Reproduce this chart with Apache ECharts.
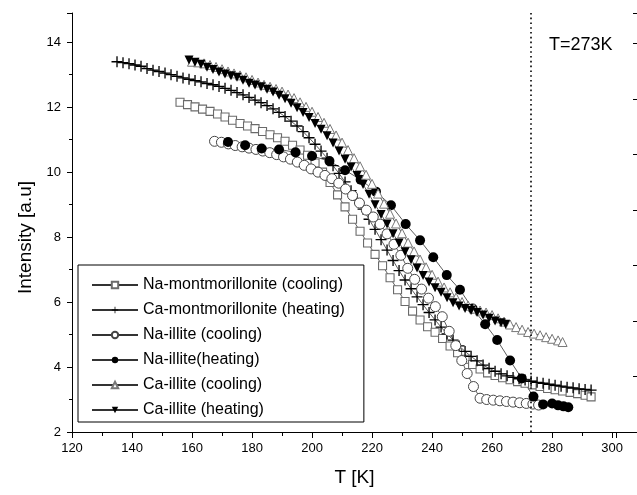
<!DOCTYPE html>
<html>
<head>
<meta charset="utf-8">
<script src="https://cdn.jsdelivr.net/npm/echarts@6/dist/echarts.min.js"></script>
<style>
  html, body { margin: 0; padding: 0; background: #fff; }
  #chart { width: 637px; height: 495px; }
</style>
</head>
<body>
<div id="chart"></div>
<script>
// [T (K), intensity (a.u)]
const naMontCooling = [
  [156, 12.15], [158.5, 12.08], [161, 12.01], [163.5, 11.94], [166, 11.87], [168.5, 11.79],
  [171, 11.7], [173.5, 11.6], [176, 11.5], [178.5, 11.42], [181, 11.34], [183.5, 11.25],
  [186, 11.15], [188.5, 11.06], [191, 10.95], [193.5, 10.83], [196, 10.68], [198.5, 10.52],
  [201, 10.28], [203.5, 10.0], [206, 9.68], [208.5, 9.3], [211, 8.93], [213.5, 8.55],
  [216, 8.18], [218.5, 7.82], [221, 7.47], [223.5, 7.12], [226, 6.75], [228.5, 6.38],
  [231, 6.02], [233.5, 5.72], [236, 5.45], [238.5, 5.24], [241, 5.07], [243.5, 4.88],
  [246, 4.65], [248.5, 4.44], [251, 4.24], [253.5, 4.08], [256, 3.94], [258.5, 3.82],
  [261, 3.74], [263.5, 3.67], [266, 3.61], [268.5, 3.55], [271, 3.5], [273.5, 3.45],
  [276, 3.4], [278.5, 3.34], [281, 3.3], [283.5, 3.26], [286, 3.22], [288.5, 3.18],
  [291, 3.13], [293, 3.08]
];
const caMontHeating = [
  [135, 13.4], [137, 13.37], [139, 13.34], [141, 13.3], [143, 13.26], [145, 13.19],
  [147, 13.14], [149, 13.1], [151, 13.05], [153, 13.0], [155, 12.95], [157, 12.9],
  [159, 12.86], [161, 12.82], [163, 12.78], [165, 12.73], [167, 12.69], [169, 12.64],
  [171, 12.58], [173, 12.52], [175, 12.45], [177, 12.38], [179, 12.3], [181, 12.22],
  [183, 12.14], [185, 12.05], [187, 11.95], [189, 11.84], [191, 11.71], [193, 11.57],
  [195, 11.42], [197, 11.25], [199, 11.06], [201, 10.86], [203, 10.65], [205, 10.43],
  [207, 10.2], [209, 9.96], [211, 9.7], [213, 9.43], [215, 9.15], [217, 8.86],
  [219, 8.55], [221, 8.24], [223, 7.92], [225, 7.6], [227, 7.28], [229, 6.97],
  [231, 6.68], [233, 6.41], [235, 6.16], [237, 5.92], [239, 5.68], [241, 5.45],
  [243, 5.23], [245, 5.02], [247, 4.83], [249, 4.65], [251, 4.48], [253, 4.33],
  [255, 4.19], [257, 4.06], [259, 3.96], [261, 3.87], [263, 3.79], [265, 3.73],
  [267, 3.68], [269, 3.64], [271, 3.6], [273, 3.56], [275, 3.53], [277, 3.5],
  [279, 3.47], [281, 3.44], [283, 3.41], [285, 3.38], [287, 3.36], [289, 3.33],
  [291, 3.31], [293, 3.29]
];
const naIlliteCooling = [
  [167.5, 10.95], [169.8, 10.92], [172.1, 10.87], [174.4, 10.82], [176.7, 10.78], [179, 10.74],
  [181.3, 10.7], [183.6, 10.65], [185.9, 10.6], [188.2, 10.54], [190.5, 10.47], [192.8, 10.4],
  [195.1, 10.31], [197.4, 10.21], [199.7, 10.1], [202, 10.0], [204.3, 9.9], [206.6, 9.8],
  [208.9, 9.66], [211.2, 9.48], [213.5, 9.28], [215.8, 9.05], [218.1, 8.83], [220.4, 8.62],
  [222.7, 8.4], [225, 8.1], [227.3, 7.78], [229.6, 7.44], [231.9, 7.04], [234.2, 6.7],
  [236.5, 6.4], [238.8, 6.12], [241.1, 5.86], [243.4, 5.55], [245.7, 5.1], [247.9, 4.66],
  [249.9, 4.2], [251.7, 3.8], [253.8, 3.4], [256, 3.04], [258.2, 3.0], [260.4, 2.98],
  [262.6, 2.96], [264.8, 2.94], [267, 2.92], [269.2, 2.9], [271.4, 2.88], [273.6, 2.86],
  [275.5, 2.83]
];
const naIlliteHeating = [
  [172, 10.93], [177.7, 10.83], [183.2, 10.73], [189, 10.7], [194.5, 10.61], [200, 10.5],
  [205.8, 10.34], [211, 10.06], [216.2, 9.77], [221.3, 9.4], [226.3, 8.98], [231.2, 8.4],
  [236, 7.9], [240.4, 7.38], [244.9, 6.83], [249.3, 6.38], [253.5, 5.8], [257.7, 5.32],
  [261.7, 4.83], [266, 4.2], [269.9, 3.65], [273.8, 3.09], [277, 2.85], [280, 2.88],
  [282, 2.82], [283.8, 2.79], [285.4, 2.76]
];
const caIlliteCooling = [
  [160, 13.4], [162, 13.38], [164, 13.35], [166, 13.3], [168, 13.24], [170, 13.17],
  [172, 13.1], [174, 13.04], [176, 12.98], [178, 12.92], [180, 12.84], [182, 12.76],
  [184, 12.69], [186, 12.63], [188, 12.56], [190, 12.48], [192, 12.39], [194, 12.28],
  [196, 12.15], [198, 12.01], [200, 11.86], [202, 11.7], [204, 11.52], [206, 11.33],
  [208, 11.13], [210, 10.91], [212, 10.68], [214, 10.43], [216, 10.18], [218, 9.92],
  [220, 9.64], [222, 9.34], [224, 9.03], [226, 8.72], [228, 8.42], [230, 8.12],
  [232, 7.83], [234, 7.56], [236, 7.31], [238, 7.07], [240, 6.84], [242, 6.63],
  [244, 6.45], [246, 6.3], [248, 6.14], [250, 6.0], [252, 5.89], [254, 5.8],
  [256, 5.74], [258, 5.68], [260, 5.6], [262, 5.5], [264, 5.4], [266, 5.31],
  [268, 5.23], [270, 5.15], [272, 5.08], [274, 5.03], [276, 4.98], [278, 4.92],
  [280, 4.87], [282, 4.82], [283.5, 4.77]
];
const caIlliteHeating = [
  [159, 13.45], [161, 13.38], [163, 13.32], [165, 13.23], [167, 13.16], [169, 13.08],
  [171, 13.02], [173, 12.97], [175, 12.92], [177, 12.83], [179, 12.74], [181, 12.68],
  [183, 12.63], [185, 12.55], [187, 12.47], [189, 12.37], [191, 12.26], [193, 12.12],
  [195, 11.98], [197, 11.84], [199, 11.68], [201, 11.5], [203, 11.32], [205, 11.12],
  [207, 10.9], [209, 10.65], [211, 10.4], [213, 10.16], [215, 9.9], [217, 9.62],
  [219, 9.32], [221, 9.0], [223, 8.7], [225, 8.4], [227, 8.1], [229, 7.82],
  [231, 7.55], [233, 7.3], [235, 7.05], [237, 6.82], [239, 6.62], [241, 6.44],
  [243, 6.3], [245, 6.13], [247, 5.98], [249, 5.88], [251, 5.8], [253, 5.74],
  [255, 5.68], [257, 5.6], [259, 5.5], [261, 5.42], [263, 5.36], [264.5, 5.32]
];
const meltingT = 273;

const font = "'Liberation Sans', Arial, sans-serif";
const plusPath = "path://M4.4,0H5.6V4.4H10V5.6H5.6V10H4.4V5.6H0V4.4H4.4Z";
const downTriPath = "path://M0,0L10,0L5,9Z";
const thinLine = { color: "#333", width: 0.8 };

function makeSeries(name, data, symbol, size, itemStyle) {
  return {
    name: name,
    type: "line",
    data: data,
    symbol: symbol,
    symbolSize: size,
    showAllSymbol: true,
    lineStyle: thinLine,
    itemStyle: itemStyle,
    emphasis: { disabled: true },
    animation: false,
  };
}

const series = [
  makeSeries("Na-montmorillonite (cooling)", naMontCooling, "rect", 8,
    { color: "#fff", borderColor: "#6a6a6a", borderWidth: 1.1 }),
  makeSeries("Ca-montmorillonite (heating)", caMontHeating, plusPath, 11,
    { color: "#000", borderWidth: 0 }),
  makeSeries("Na-illite (cooling)", naIlliteCooling, "circle", 10,
    { color: "#fff", borderColor: "#444", borderWidth: 1 }),
  makeSeries("Na-illite(heating)", naIlliteHeating, "circle", 10,
    { color: "#000", borderWidth: 0 }),
  makeSeries("Ca-illite (cooling)", caIlliteCooling, "triangle", 9,
    { color: "#fff", borderColor: "#777", borderWidth: 1 }),
  makeSeries("Ca-illite (heating)", caIlliteHeating, downTriPath, 9,
    { color: "#000", borderWidth: 0 }),
];

series[0].markLine = {
  silent: true,
  symbol: "none",
  label: { show: false },
  lineStyle: { color: "#000", width: 1.6, type: [1.6, 3.2] },
  data: [{ xAxis: meltingT }],
};

const axisText = { color: "#000", fontFamily: font, fontSize: 13 };
const black = { color: "#000", width: 1 };

const option = {
  animation: false,
  title: {
    text: "T=" + meltingT + "K",
    left: 544,
    top: 31,
    textStyle: { color: "#000", fontFamily: font, fontSize: 18, fontWeight: "normal" },
  },
  legend: {
    orient: "vertical",
    left: 78,
    top: 265,
    padding: [12, 19, 4, 13],
    itemWidth: 46,
    itemHeight: 8,
    itemGap: 9,
    borderColor: "#000",
    borderWidth: 1,
    textStyle: { color: "#000", fontFamily: font, fontSize: 16 },
    selectedMode: false,
  },
  grid: [
    { left: 72, right: 0, top: 13, bottom: 63 },
    { left: 72, width: 544, top: 13, bottom: 63 },
  ],
  xAxis: [
    {
      type: "value",
      gridIndex: 0,
      min: 120,
      max: 308.3,
      interval: 20,
      name: "T [K]",
      nameLocation: "middle",
      nameGap: 36,
      nameTextStyle: { color: "#000", fontFamily: font, fontSize: 19 },
      axisLine: { lineStyle: black },
      axisTick: { inside: false, length: 6, lineStyle: black },
      minorTick: { show: true, splitNumber: 2, length: 4, lineStyle: black },
      axisLabel: Object.assign({ margin: 10, showMaxLabel: false }, axisText),
      splitLine: { show: false },
    },
    {
      type: "value",
      gridIndex: 1,
      position: "top",
      min: 120,
      max: 301.33,
      interval: 20,
      axisLine: { lineStyle: black },
      axisTick: { inside: true, length: 6, lineStyle: black },
      minorTick: { show: true, splitNumber: 2, length: 4, lineStyle: black },
      axisLabel: { show: false },
      splitLine: { show: false },
    },
  ],
  yAxis: [
    {
      type: "value",
      gridIndex: 0,
      min: 2,
      max: 14.9,
      interval: 2,
      name: "Intensity [a.u]",
      nameLocation: "middle",
      nameGap: 37,
      nameTextStyle: { color: "#000", fontFamily: font, fontSize: 19, padding: [0, 30, 0, 0] },
      axisLine: { lineStyle: black },
      axisTick: { inside: false, length: 5, lineStyle: black },
      minorTick: { show: true, splitNumber: 2, length: 3, lineStyle: black },
      axisLabel: Object.assign({ margin: 11, showMaxLabel: false }, axisText),
      splitLine: { show: false },
    },
    {
      type: "value",
      gridIndex: 0,
      position: "right",
      min: 0,
      max: 7.55,
      interval: 1,
      axisLine: { show: false },
      axisTick: { inside: true, length: 4, lineStyle: black },
      axisLabel: { show: false },
      splitLine: { show: false },
    },
    {
      type: "value",
      gridIndex: 1,
      show: false,
    },
  ],
  series: series,
};

const myChart = echarts.init(document.getElementById("chart"));
myChart.setOption(option);
</script>
</body>
</html>
